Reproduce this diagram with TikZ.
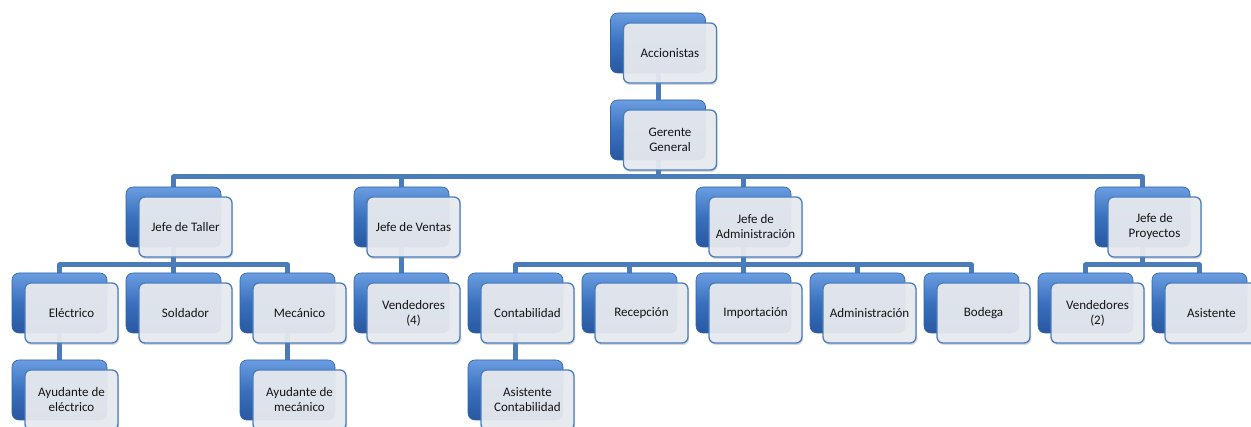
\documentclass[tikz,border=0pt]{standalone}
\usepackage{fontspec}
\setmainfont{Carlito}
\usetikzlibrary{shadows,backgrounds}
\definecolor{backtop}{HTML}{6A9DE0}
\definecolor{backmid}{HTML}{3A70BD}
\definecolor{backbot}{HTML}{2858A0}
\definecolor{backedge}{HTML}{3063AA}
\definecolor{frontfill}{HTML}{E9ECF1}
\definecolor{frontedge}{HTML}{4A7EBE}
\definecolor{connc}{HTML}{4A7CBA}
\definecolor{txt}{HTML}{141414}
\tikzset{
 backbox/.style={rectangle, rounded corners=7pt, minimum width=95pt, minimum height=60pt,
   top color=backtop, bottom color=backbot, middle color=backmid, draw=backedge, line width=0.6pt, inner sep=0pt},
 frontbox/.style={rectangle, rounded corners=6pt, minimum width=93pt, minimum height=60pt,
   fill=frontfill, fill opacity=0.93, text opacity=1, draw=frontedge, line width=1.3pt,
   align=center, text=txt, font=\fontsize{13}{15}\selectfont,
   drop shadow={opacity=0.3, shadow xshift=1pt, shadow yshift=-2pt}, inner sep=1pt},
 conn/.style={draw=connc, line width=5pt, line join=round}
}
\newcommand{\orgunit}[4]{%
  \node[backbox] (#1) at (#2,#3+30) {};
  \node[frontbox] (#1f) at (#2+12,#3+40) {#4};
}
\begin{document}
\begin{tikzpicture}[x=1pt,y=-1pt]
\useasboundingbox (0,0) rectangle (1251,427);
\coordinate (b0) at (0,177);
\coordinate (b1) at (0,265);
% level 0 and 1
\orgunit{acc}{658}{13}{Accionistas}
\orgunit{ger}{658}{100}{Gerente\\General}
% level 2
\orgunit{taller}{173.5}{187}{Jefe de Taller}
\orgunit{ventas}{401.5}{187}{Jefe de Ventas}
\orgunit{admin}{743.5}{187}{Jefe de\\Administración}
\orgunit{proy}{1142.5}{187}{Jefe de\\Proyectos}
% level 3
\orgunit{elec}{59.5}{273}{Eléctrico}
\orgunit{sold}{173.5}{273}{Soldador}
\orgunit{mec}{287.5}{273}{Mecánico}
\orgunit{vend}{401.5}{273}{Vendedores\\(4)}
\orgunit{cont}{515.5}{273}{Contabilidad}
\orgunit{recep}{629.5}{273}{Recepción}
\orgunit{impo}{743.5}{273}{Importación}
\orgunit{adm}{857.5}{273}{Administración}
\orgunit{bod}{971.5}{273}{Bodega}
\orgunit{vendb}{1085.5}{273}{Vendedores\\(2)}
\orgunit{asis}{1199.5}{273}{Asistente}
% level 4
\orgunit{ayelec}{59.5}{360}{Ayudante de\\eléctrico}
\orgunit{aymec}{287.5}{360}{Ayudante de\\mecánico}
\orgunit{asiscont}{515.5}{360}{Asistente\\Contabilidad}
\begin{scope}[on background layer]
  \fill[white] (0,0) rectangle (1251,427);
  \draw[conn] (acc.center) -- (ger.center);
  \foreach \c in {taller,ventas,admin,proy}
    \draw[conn] (ger.center) |- (\c.center |- b0) -- (\c.center);
  \foreach \c in {elec,sold,mec}
    \draw[conn] (taller.center) |- (\c.center |- b1) -- (\c.center);
  \draw[conn] (ventas.center) -- (vend.center);
  \foreach \c in {cont,recep,impo,adm,bod}
    \draw[conn] (admin.center) |- (\c.center |- b1) -- (\c.center);
  \foreach \c in {vendb,asis}
    \draw[conn] (proy.center) |- (\c.center |- b1) -- (\c.center);
  \draw[conn] (elec.center) -- (ayelec.center);
  \draw[conn] (mec.center) -- (aymec.center);
  \draw[conn] (cont.center) -- (asiscont.center);
\end{scope}
\end{tikzpicture}
\end{document}
